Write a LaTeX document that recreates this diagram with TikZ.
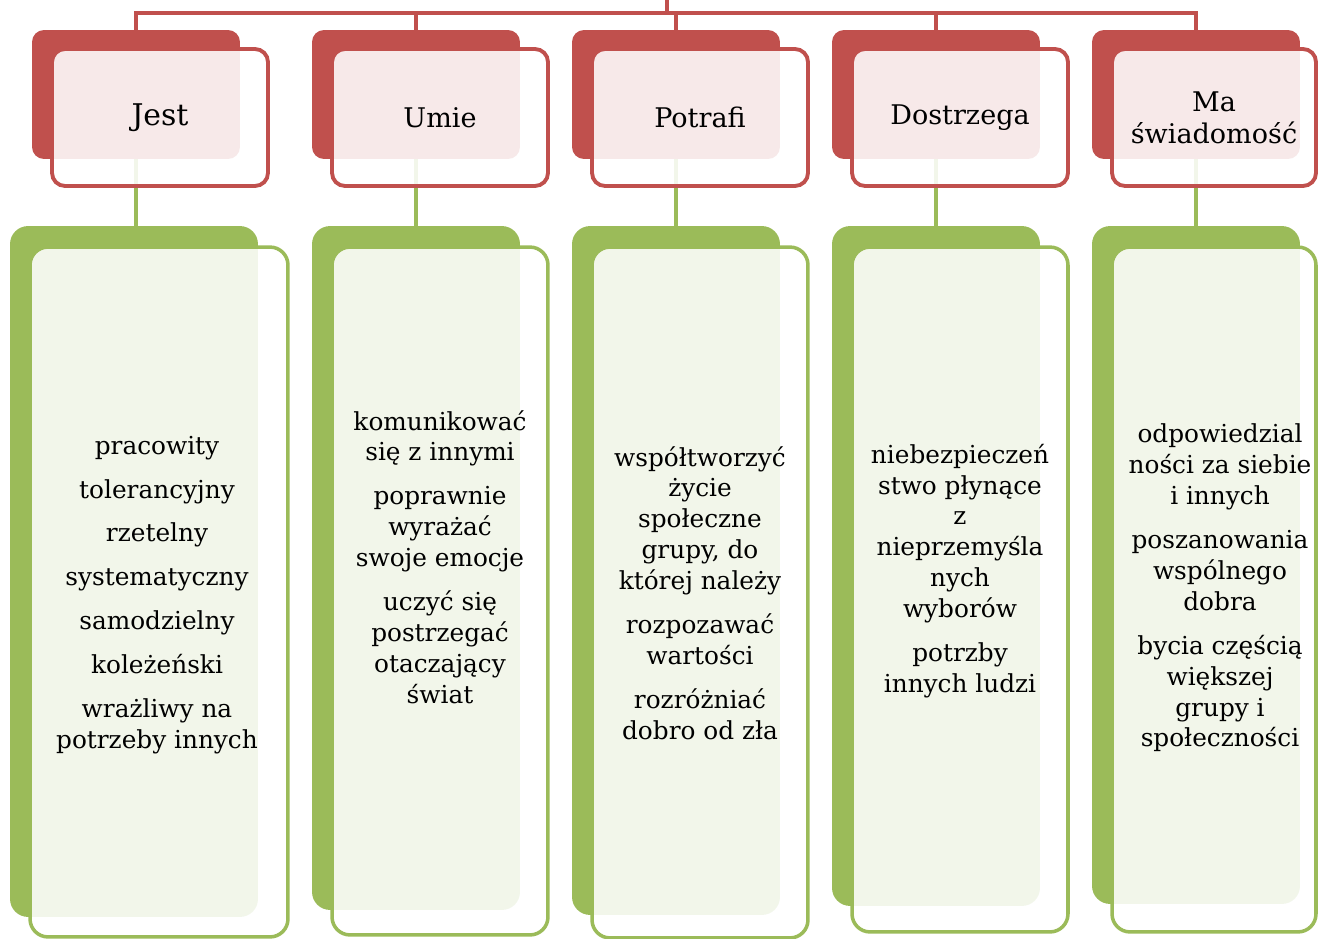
\documentclass[tikz,border=0pt]{standalone}
\usepackage{fontspec}
\setmainfont{DejaVu Serif}
\definecolor{accred}{HTML}{C0504D}
\definecolor{accgreen}{HTML}{9BBB59}
\begin{document}
\begin{tikzpicture}[x=0.02cm, y=-0.02cm,
  redback/.style={fill=accred, draw=none, rounded corners=0.24cm, inner sep=0pt, outer sep=0pt},
  greenback/.style={fill=accgreen, draw=none, rounded corners=0.36cm, inner sep=0pt, outer sep=0pt},
  redfront/.style={draw=accred, line width=2.2pt, fill=white, fill opacity=0.88, text opacity=1,
    rounded corners=0.26cm, inner sep=0pt, outer sep=0pt, align=center,
    font=\fontsize{15.4pt}{18.2pt}\selectfont, minimum height=2.74cm},
  greenfront/.style={draw=accgreen, line width=2pt, fill=white, fill opacity=0.88, text opacity=1,
    rounded corners=0.36cm, inner sep=0pt, outer sep=0pt},
  redlink/.style={draw=accred, line width=2pt},
  greenlink/.style={draw=accgreen, line width=2.2pt},
  itemtext/.style={align=center, inner sep=0pt, font=\fontsize{14.1pt}{17.6pt}\selectfont}]
\useasboundingbox (0,0) rectangle (1318,939);

% red back boxes
\node[redback, minimum width=4.16cm, minimum height=2.58cm] (rb1) at (136,94.5) {};
\node[redback, minimum width=4.16cm, minimum height=2.58cm] (rb2) at (416,94.5) {};
\node[redback, minimum width=4.16cm, minimum height=2.58cm] (rb3) at (676,94.5) {};
\node[redback, minimum width=4.16cm, minimum height=2.58cm] (rb4) at (936,94.5) {};
\node[redback, minimum width=4.16cm, minimum height=2.58cm] (rb5) at (1196,94.5) {};

% green back boxes
\node[greenback, minimum width=4.96cm, minimum height=13.82cm] (gb1) at (134,571.5) {};
\node[greenback, minimum width=4.16cm, minimum height=13.68cm] (gb2) at (416,568) {};
\node[greenback, minimum width=4.16cm, minimum height=13.78cm] (gb3) at (676,570.5) {};
\node[greenback, minimum width=4.16cm, minimum height=13.60cm] (gb4) at (936,566) {};
\node[greenback, minimum width=4.16cm, minimum height=13.56cm] (gb5) at (1196,565) {};

% connectors
\coordinate (top) at (667,-2);
\coordinate (bus) at (667,13);
\draw[redlink] (top) -- (bus);
\draw[redlink] (bus) -| (rb1.north);
\draw[redlink] (bus) -| (rb2.north);
\draw[redlink] (bus) -| (rb3.north);
\draw[redlink] (bus) -| (rb4.north);
\draw[redlink] (bus) -| (rb5.north);
\draw[greenlink] (rb1.south) -- (rb1.south |- gb1.north);
\draw[greenlink] (rb2.south) -- (rb2.south |- gb2.north);
\draw[greenlink] (rb3.south) -- (rb3.south |- gb3.north);
\draw[greenlink] (rb4.south) -- (rb4.south |- gb4.north);
\draw[greenlink] (rb5.south) -- (rb5.south |- gb5.north);

% red front boxes with titles
\node[redfront, minimum width=4.32cm, font=\fontsize{17pt}{20pt}\selectfont] (rf1) at (160,117.5) {Jest};
\node[redfront, minimum width=4.32cm] (rf2) at (440,117.5) {Umie};
\node[redfront, minimum width=4.32cm] (rf3) at (700,117.5) {Potrafi};
\node[redfront, minimum width=4.32cm] (rf4) at (960,117.5) {Dostrzega};
\node[redfront, minimum width=4.08cm] (rf5) at (1214,117.5) {Ma\\świadomość};

% green front boxes
\node[greenfront, minimum width=5.16cm, minimum height=13.80cm] (gf1) at (159,592) {};
\node[greenfront, minimum width=4.32cm, minimum height=13.76cm] (gf2) at (440,591) {};
\node[greenfront, minimum width=4.32cm, minimum height=13.82cm] (gf3) at (700,592.5) {};
\node[greenfront, minimum width=4.32cm, minimum height=13.70cm] (gf4) at (960,589.5) {};
\node[greenfront, minimum width=4.08cm, minimum height=13.70cm] (gf5) at (1214,589.5) {};

% texts
\node[itemtext] (t1) at (157,595) {pracowity\\[7.4pt]tolerancyjny\\[7.4pt]rzetelny\\[7.4pt]systematyczny\\[7.4pt]samodzielny\\[7.4pt]koleżeński\\[7.4pt]wrażliwy na\\potrzeby innych};
\node[itemtext] (t2) at (440,557) {komunikować\\się z innymi\\[7.4pt]poprawnie\\wyrażać\\swoje emocje\\[7.4pt]uczyć się\\postrzegać\\otaczający\\świat};
\node[itemtext] (t3) at (700,593) {współtworzyć\\życie\\społeczne\\grupy, do\\której należy\\[7.4pt]rozpozawać\\wartości\\[7.4pt]rozróżniać\\dobro od zła};
\node[itemtext] (t4) at (960,571) {niebezpieczeń\\stwo płynące\\z\\nieprzemyśla\\nych\\wyborów\\[7.4pt]potrzby\\innych ludzi};
\node[itemtext] (t5) at (1220,588) {odpowiedzial\\ności za siebie\\i innych\\[7.4pt]poszanowania\\wspólnego\\dobra\\[7.4pt]bycia częścią\\większej\\grupy i\\społeczności};
\end{tikzpicture}
\end{document}
